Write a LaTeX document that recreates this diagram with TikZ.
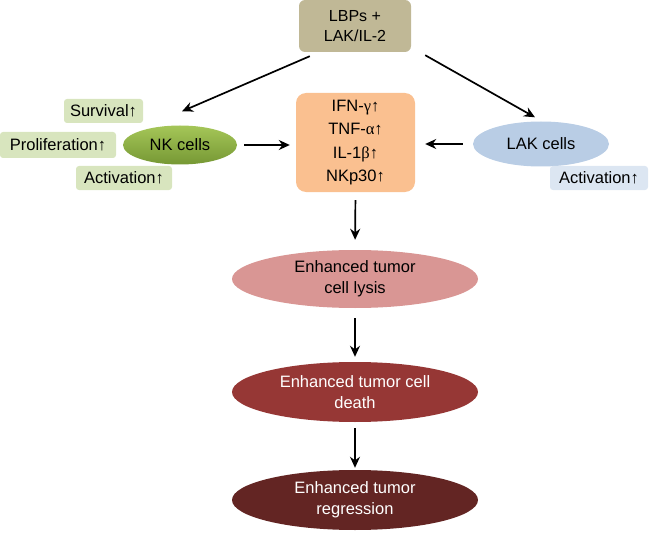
\documentclass[tikz,border=0pt]{standalone}
\usepackage{fontspec}
\setmainfont{Liberation Sans}
\newfontfamily\grk{Liberation Serif}
\usetikzlibrary{arrows.meta,calc,shapes.geometric}
\definecolor{tanbox}{RGB}{192,184,150}
\definecolor{orangebox}{RGB}{250,192,144}
\definecolor{greenlt}{RGB}{216,229,190}
\definecolor{bluelt}{RGB}{220,230,242}
\definecolor{lakblue}{RGB}{185,205,229}
\definecolor{pinkell}{RGB}{217,150,148}
\definecolor{redell}{RGB}{150,55,53}
\definecolor{darkell}{RGB}{99,37,35}
\definecolor{nkdark}{RGB}{118,152,52}
\definecolor{nklight}{RGB}{165,198,88}
\tikzset{
  arr/.style={-{Stealth[length=11pt,width=10pt]}, line width=1.7pt},
  tag/.style={rounded corners=3pt, inner sep=0pt, minimum height=24pt, font=\fontsize{16.5}{19}\selectfont},
  outcome/.style={ellipse, inner sep=0pt, minimum width=246pt, minimum height=60pt, align=center, font=\fontsize{16.5}{21}\selectfont},
}
\begin{document}
\begin{tikzpicture}[x=1pt,y=-1pt]
\useasboundingbox (0,0) rectangle (649,535);
% top box
\node[fill=tanbox, rounded corners=6pt, minimum width=112pt, minimum height=52pt, inner sep=0pt, align=center, font=\fontsize{16}{20.5}\selectfont] (lbp) at (355,26) {LBPs +\\LAK/IL-2};
% NK cells
\node[ellipse, top color=nklight, bottom color=nkdark, minimum width=114pt, minimum height=39pt, inner sep=0pt, font=\fontsize{16.5}{19}\selectfont] (nk) at (180,145) {NK cells};
\node[tag, fill=greenlt, minimum width=79pt] (surv) at (103.5,111) {Survival↑};
\node[tag, fill=greenlt, minimum width=116pt, minimum height=26pt] (prol) at (58,145) {Proliferation↑};
\node[tag, fill=greenlt, minimum width=96pt] (actl) at (124,178) {Activation↑};
% center box
\node[fill=orangebox, rounded corners=10pt, minimum width=119pt, minimum height=99pt, inner sep=0pt, align=center, font=\fontsize{16.5}{23.3}\selectfont] (cbox) at (355.5,142.5) {IFN-{\grk γ}↑\\TNF-{\grk α}↑\\IL-1{\grk β}↑\\NKp30↑};
% LAK cells
\node[ellipse, fill=lakblue, minimum width=136pt, minimum height=45pt, inner sep=0pt, font=\fontsize{16.5}{19}\selectfont] (lak) at (541,144) {LAK cells};
\node[tag, fill=bluelt, minimum width=98pt] (actr) at (599,178) {Activation↑};
% outcomes
\node[outcome, fill=pinkell, minimum height=58pt] (lysis) at (355,279) {Enhanced tumor\\cell lysis};
\node[outcome, fill=redell, text=white] (death) at (355,392) {Enhanced tumor cell\\death};
\node[outcome, fill=darkell, text=white] (regr) at (355,500) {Enhanced tumor\\regression};
% arrows
\draw[arr] ($(lbp.south west)+(11,4)$) -- ($(nk.north)+(2,-14)$);
\draw[arr] ($(lbp.south east)+(14,3)$) -- ($(lak.north)+(-6,-4)$);
\draw[arr, shorten <=7pt, shorten >=6pt] (nk.east) -- (nk.east -| cbox.west);
\draw[arr, shorten <=10pt, shorten >=10pt] (lak.west) -- (lak.west -| cbox.east);
\draw[arr, shorten <=8pt, shorten >=10pt] (cbox.south) -- (lysis.north);
\draw[arr, shorten <=10pt, shorten >=5pt] (lysis.south) -- (death.north);
\draw[arr, shorten <=6pt, shorten >=2pt] (death.south) -- (regr.north);
\end{tikzpicture}
\end{document}
